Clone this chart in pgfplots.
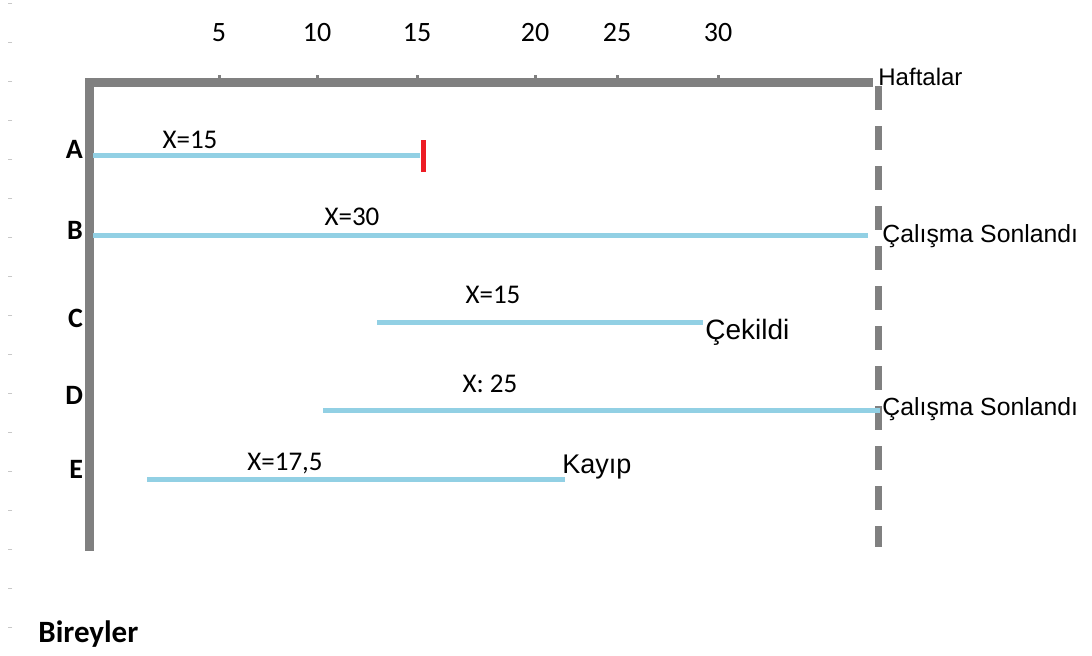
\documentclass[border=0pt]{standalone}
\usepackage{pgfplots}
\pgfplotsset{compat=1.18}
\usepackage{fontspec}
\setmainfont{Carlito}
\newfontfamily\arialf{Liberation Sans}
\definecolor{axisgray}{RGB}{128,128,128}
\definecolor{lineblue}{RGB}{146,208,228}
\definecolor{tickred}{RGB}{237,28,36}
\definecolor{rulergray}{RGB}{200,200,200}
\newcommand{\fs}[1]{\fontsize{#1}{#1}\selectfont}

\begin{document}
\begin{tikzpicture}
\begin{axis}[
  scale only axis,
  width=389.5pt, height=232pt,
  xmin=89, xmax=868, ymin=109, ymax=573,
  clip=false,
  axis x line*=top,
  axis y line*=left,
  axis line style={line width=4.5pt, draw=axisgray, line cap=rect},
  xtick={219,317,417,535,617,718},
  xticklabels={5,10,15,20,25,30},
  xtick style={line width=1.5pt, draw=axisgray},
  major tick length=3.5pt,
  tick align=outside,
  xticklabel style={font=\fs{14pt}, yshift=13pt},
  ytick={506,425,337,260,186},
  yticklabels={A,B,C,D,E},
  ytick style={draw=none},
  yticklabel style={font=\fs{14pt}\bfseries, xshift=4pt},
]
% ruler marks at the page edge
\addplot[rulergray, only marks, mark=-, mark size=1.2pt, mark options={line width=0.5pt}]
  coordinates {(10,652) (10,613) (10,574) (10,535) (10,496) (10,457) (10,418) (10,379) (10,340)
               (10,301) (10,262) (10,223) (10,184) (10,145) (10,106) (10,67) (10,28)};
% end of study (dashed)
\addplot[axisgray, line width=3.5pt, dash pattern=on 12pt off 8pt] coordinates {(878,569) (878,108)};
% follow-up of individuals
\addplot[lineblue, line width=2.5pt] coordinates {(93,500) (420,500)};
\addplot[lineblue, line width=2.5pt] coordinates {(93,420) (868,420)};
\addplot[lineblue, line width=2.5pt] coordinates {(377,333) (703,333)};
\addplot[lineblue, line width=2.5pt] coordinates {(323,245) (880,245)};
\addplot[lineblue, line width=2.5pt] coordinates {(147,176) (565,176)};
% event marker for A
\addplot[tickred, line width=2.5pt] coordinates {(423,515) (423,483)};

\node[anchor=base west, font=\arialf\fs{12pt}, inner sep=0pt] at (axis cs:878,570) {Haftalar};
\node[anchor=base, font=\fs{13.5pt}, inner sep=0pt] at (axis cs:190,507) {X=15};
\node[anchor=base, font=\fs{13.5pt}, inner sep=0pt] at (axis cs:352,430) {X=30};
\node[anchor=base west, font=\arialf\fs{12.4pt}, inner sep=0pt] at (axis cs:882,413) {Çalışma Sonlandı};
\node[anchor=base, font=\fs{13.5pt}, inner sep=0pt] at (axis cs:493,352) {X=15};
\node[anchor=base west, font=\arialf\fs{14pt}, inner sep=0pt] at (axis cs:705,316) {Çekildi};
\node[anchor=base, font=\fs{13.5pt}, inner sep=0pt] at (axis cs:490,263) {X: 25};
\node[anchor=base west, font=\arialf\fs{12.4pt}, inner sep=0pt] at (axis cs:882,240) {Çalışma Sonlandı};
\node[anchor=base, font=\fs{13.5pt}, inner sep=0pt] at (axis cs:285,185) {X=17,5};
\node[anchor=base west, font=\arialf\fs{13.5pt}, inner sep=0pt] at (axis cs:562,182) {Kayıp};
\node[anchor=base west, font=\fs{15.5pt}\bfseries, inner sep=0pt] at (axis cs:38,13) {Bireyler};

\coordinate (bl) at (axis cs:0,0);
\coordinate (tr) at (axis cs:1092,655);
\end{axis}
\pgfresetboundingbox
\path[use as bounding box] (bl) rectangle (tr);
\end{tikzpicture}
\end{document}
